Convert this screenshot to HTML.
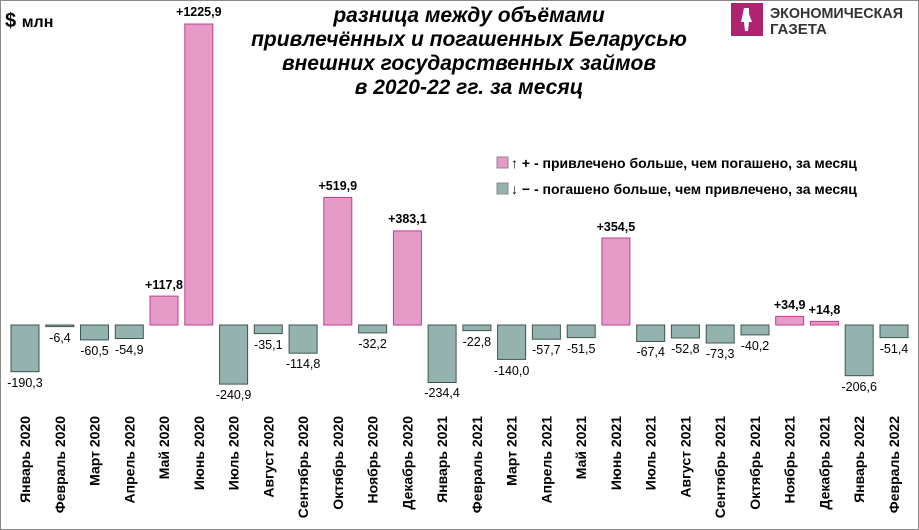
<!DOCTYPE html><html><head><meta charset="utf-8"><style>body{margin:0;background:#fff}svg{display:block}</style></head><body>
<svg width="919" height="530" xmlns="http://www.w3.org/2000/svg" font-family="Liberation Sans, sans-serif">
<rect x="0.5" y="0.5" width="918" height="529" fill="#fff" stroke="#888"/>
<text x="5" y="27" font-size="20" font-weight="bold">$ <tspan font-size="16">млн</tspan></text>
<g font-size="21" font-weight="bold" font-style="italic" text-anchor="middle">
<text x="469" y="22">разница между объёмами</text>
<text x="469" y="46">привлечённых и погашенных Беларусью</text>
<text x="469" y="70">внешних государственных займов</text>
<text x="469" y="94">в 2020-22 гг. за месяц</text></g>
<rect x="731" y="3" width="32" height="33" fill="#B0246F"/>
<path d="M744 8 h5 v6 l3 8 h-3 l-1 9 h-3 l-1-9 h-3 z" fill="#fff"/>
<text x="770" y="18" font-size="15" font-weight="bold" fill="#333" textLength="133" lengthAdjust="spacingAndGlyphs">ЭКОНОМИЧЕСКАЯ</text>
<text x="770" y="34" font-size="15" font-weight="bold" fill="#333">ГАЗЕТА</text>
<g font-size="14" font-weight="bold">
<rect x="497" y="157" width="11" height="11" fill="#E59AC8" stroke="#888"/>
<text x="511" y="168">↑ +  - привлечено больше, чем погашено, за месяц</text>
<rect x="497" y="183" width="11" height="11" fill="#95B3AE" stroke="#888"/>
<text x="511" y="194">↓ −  - погашено больше, чем привлечено, за месяц</text></g>
<g stroke-width="1">
<g fill="#95B3AE" stroke="#3E5550">
<rect x="11" y="325" width="28" height="46.7"/>
<rect x="45.8" y="325" width="28" height="1.6"/>
<rect x="80.5" y="325" width="28" height="14.9"/>
<rect x="115.3" y="325" width="28" height="13.5"/>
<rect x="219.6" y="325" width="28" height="59.1"/>
<rect x="254.3" y="325" width="28" height="8.6"/>
<rect x="289.1" y="325" width="28" height="28.2"/>
<rect x="358.6" y="325" width="28" height="7.9"/>
<rect x="428.1" y="325" width="28" height="57.5"/>
<rect x="462.9" y="325" width="28" height="5.6"/>
<rect x="497.6" y="325" width="28" height="34.4"/>
<rect x="532.4" y="325" width="28" height="14.2"/>
<rect x="567.2" y="325" width="28" height="12.6"/>
<rect x="636.7" y="325" width="28" height="16.5"/>
<rect x="671.4" y="325" width="28" height="13"/>
<rect x="706.2" y="325" width="28" height="18"/>
<rect x="741" y="325" width="28" height="9.9"/>
<rect x="845.2" y="325" width="28" height="50.7"/>
<rect x="880" y="325" width="28" height="12.6"/></g>
<g fill="#E59AC8" stroke="#C0408F">
<rect x="150" y="296.1" width="28" height="28.9"/>
<rect x="184.8" y="24" width="28" height="301"/>
<rect x="323.8" y="197.4" width="28" height="127.6"/>
<rect x="393.4" y="230.9" width="28" height="94.1"/>
<rect x="601.9" y="238" width="28" height="87"/>
<rect x="775.7" y="316.4" width="28" height="8.6"/>
<rect x="810.5" y="321.4" width="28" height="3.6"/></g></g>
<g font-size="12.5" text-anchor="middle">
<text x="25" y="387">-190,3</text><text x="60" y="342">-6,4</text><text x="94.5" y="355">-60,5</text><text x="129.3" y="354">-54,9</text>
<text x="233.6" y="399">-240,9</text><text x="268.3" y="349">-35,1</text><text x="303.1" y="368">-114,8</text><text x="372.6" y="348">-32,2</text>
<text x="442.1" y="397">-234,4</text><text x="476.9" y="346">-22,8</text><text x="511.6" y="375">-140,0</text><text x="546.4" y="354">-57,7</text>
<text x="581.2" y="353">-51,5</text><text x="650.7" y="356">-67,4</text><text x="685.4" y="353">-52,8</text><text x="720.2" y="358">-73,3</text>
<text x="755" y="350">-40,2</text><text x="859.2" y="391">-206,6</text><text x="894" y="353">-51,4</text>
<g font-weight="bold"><text x="164" y="289">+117,8</text><text x="198.8" y="16">+1225,9</text><text x="337.8" y="190">+519,9</text>
<text x="407.4" y="223">+383,1</text><text x="615.9" y="231">+354,5</text><text x="789.7" y="309">+34,9</text><text x="824.5" y="314">+14,8</text></g></g>
<g font-size="14" font-weight="bold" text-anchor="end">
<text transform="translate(30,416) rotate(-90)">Январь 2020</text>
<text transform="translate(64.8,416) rotate(-90)">Февраль 2020</text>
<text transform="translate(99.5,416) rotate(-90)">Март 2020</text>
<text transform="translate(134.3,416) rotate(-90)">Апрель 2020</text>
<text transform="translate(169,416) rotate(-90)">Май 2020</text>
<text transform="translate(203.8,416) rotate(-90)">Июнь 2020</text>
<text transform="translate(238.6,416) rotate(-90)">Июль 2020</text>
<text transform="translate(273.3,416) rotate(-90)">Август 2020</text>
<text transform="translate(308.1,416) rotate(-90)">Сентябрь 2020</text>
<text transform="translate(342.8,416) rotate(-90)">Октябрь 2020</text>
<text transform="translate(377.6,416) rotate(-90)">Ноябрь 2020</text>
<text transform="translate(412.4,416) rotate(-90)">Декабрь 2020</text>
<text transform="translate(447.1,416) rotate(-90)">Январь 2021</text>
<text transform="translate(481.9,416) rotate(-90)">Февраль 2021</text>
<text transform="translate(516.6,416) rotate(-90)">Март 2021</text>
<text transform="translate(551.4,416) rotate(-90)">Апрель 2021</text>
<text transform="translate(586.2,416) rotate(-90)">Май 2021</text>
<text transform="translate(620.9,416) rotate(-90)">Июнь 2021</text>
<text transform="translate(655.7,416) rotate(-90)">Июль 2021</text>
<text transform="translate(690.4,416) rotate(-90)">Август 2021</text>
<text transform="translate(725.2,416) rotate(-90)">Сентябрь 2021</text>
<text transform="translate(760,416) rotate(-90)">Октябрь 2021</text>
<text transform="translate(794.7,416) rotate(-90)">Ноябрь 2021</text>
<text transform="translate(829.5,416) rotate(-90)">Декабрь 2021</text>
<text transform="translate(864.2,416) rotate(-90)">Январь 2022</text>
<text transform="translate(899,416) rotate(-90)">Февраль 2022</text></g>
</svg></body></html>
